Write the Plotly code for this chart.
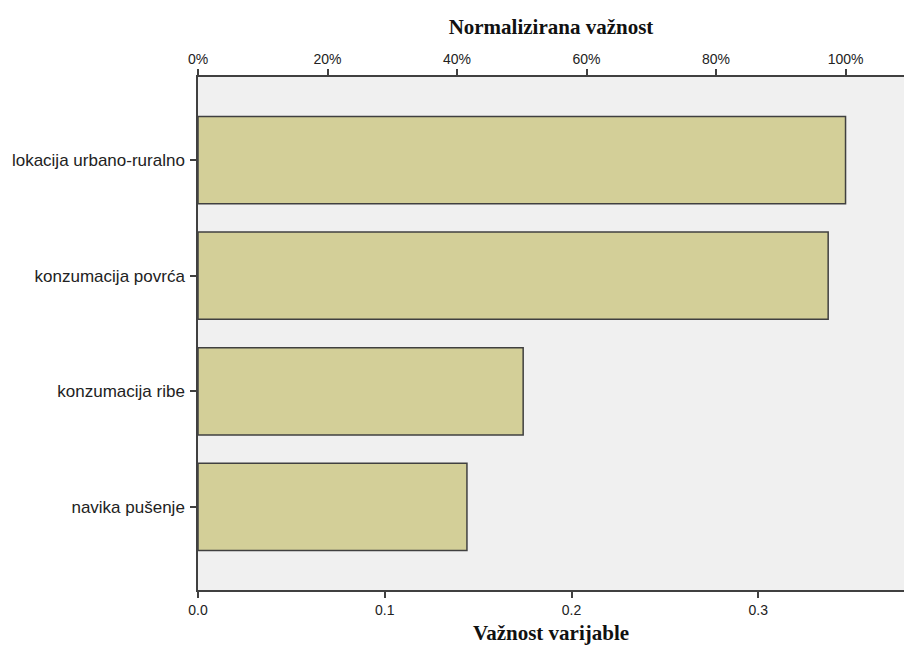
import plotly.graph_objects as go

categories = ["lokacija urbano-ruralno", "konzumacija povrća", "konzumacija ribe", "navika pušenje"]
importance = [0.3467, 0.3374, 0.1741, 0.1440]
x_ticks = [0.0, 0.1, 0.2, 0.3]
x_ticklabels = ["0.0", "0.1", "0.2", "0.3"]
pct_ticks = [0, 20, 40, 60, 80, 100]
pct_ticklabels = ["0%", "20%", "40%", "60%", "80%", "100%"]

max_imp = max(importance)
normalized = [v / max_imp * 100 for v in importance]
x_max = 0.378

fig = go.Figure()
fig.add_trace(go.Bar(
    y=categories, x=importance, orientation="h",
    marker=dict(color="#D3CF98", line=dict(color="#404040", width=1.5)),
    width=0.755, showlegend=False, hoverinfo="skip",
))
fig.add_trace(go.Scatter(
    y=categories, x=normalized, xaxis="x2", mode="markers",
    marker=dict(opacity=0), showlegend=False, hoverinfo="skip",
))

axis_line = dict(showline=True, linecolor="#404040", linewidth=1.5, ticks="outside",
                 tickcolor="#404040", tickwidth=1.5, ticklen=6, showgrid=False, zeroline=False,
                 automargin=False)
tick_font = dict(family="Liberation Sans, Arial", size=14, color="#222222")
title_font = dict(family="Liberation Serif, Times New Roman", size=21, color="#111111", weight="bold")

fig.update_layout(
    width=904, height=646,
    margin=dict(l=198, r=0, t=77, b=56),
    paper_bgcolor="white", plot_bgcolor="#F0F0F0",
    xaxis=dict(range=[0, x_max], tickvals=x_ticks, ticktext=x_ticklabels,
               tickfont=tick_font, title=dict(text="Važnost varijable", font=title_font, standoff=9),
               **axis_line),
    xaxis2=dict(overlaying="x", side="top", range=[0, x_max / max_imp * 100],
                tickvals=pct_ticks, ticktext=pct_ticklabels, tickfont=tick_font,
                title=dict(text="Normalizirana važnost", font=title_font, standoff=10),
                **axis_line),
    yaxis=dict(range=[3.72, -0.72], tickfont=dict(family="Liberation Sans, Arial", size=17, color="#222222"),
               ticklabelstandoff=2, **axis_line),
    bargap=0.245,
)

fig.write_html("out.html", config={"displayModeBar": False},
               post_script="document.body.style.margin='0';document.body.style.overflow='hidden';")
